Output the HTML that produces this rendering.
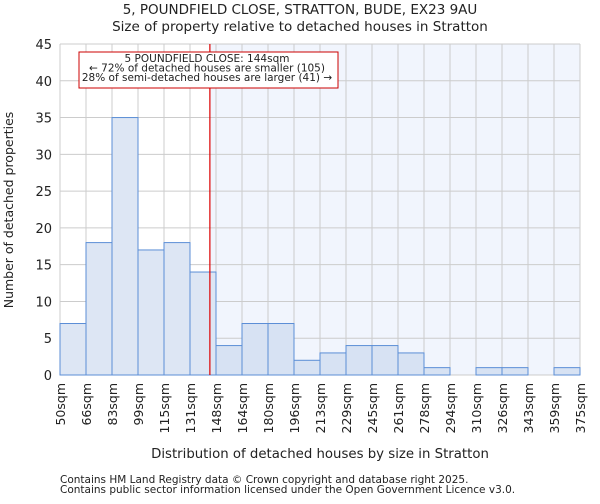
<!DOCTYPE html>
<html><head><meta charset="utf-8"><style>
body{margin:0;background:#fff;font-family:"DejaVu Sans","Liberation Sans",sans-serif;}
svg text{font-family:"DejaVu Sans","Liberation Sans",sans-serif;fill:#222;}
</style></head><body>
<svg id="c" width="600" height="500">
<text x="300" y="14" font-size="13.5" text-anchor="middle">5, POUNDFIELD CLOSE, STRATTON, BUDE, EX23 9AU</text>
<text x="300" y="31" font-size="13.5" text-anchor="middle">Size of property relative to detached houses in Stratton</text>
<g id="plot"></g>
<text x="320" y="458" font-size="13.3" text-anchor="middle">Distribution of detached houses by size in Stratton</text>
<text transform="translate(13,210) rotate(-90)" font-size="12.5" text-anchor="middle">Number of detached properties</text>
<text x="60" y="483" font-size="10.5" fill="#555">Contains HM Land Registry data © Crown copyright and database right 2025.</text>
<text x="60" y="493" font-size="10.5" fill="#555">Contains public sector information licensed under the Open Government Licence v3.0.</text>
</svg>
<script>
const categories=["50sqm","66sqm","83sqm","99sqm","115sqm","131sqm","148sqm","164sqm","180sqm","196sqm","213sqm","229sqm","245sqm","261sqm","278sqm","294sqm","310sqm","326sqm","343sqm","359sqm","375sqm"];
const counts=[7,18,35,17,18,14,4,7,7,2,3,4,4,3,1,0,1,1,0,1];
const yTicks=[0,5,10,15,20,25,30,35,40,45];
const propertyBin=5+13/17;
const NS="http://www.w3.org/2000/svg";
const L=60,R=580,T=44,B=375,yMax=45;
const n=counts.length,bw=(R-L)/n;
const x=i=>L+i*bw, y=v=>B-(v/yMax)*(B-T);
const g=document.getElementById('plot');
function mk(t,a){const e=document.createElementNS(NS,t);for(const k in a)e.setAttribute(k,a[k]);g.appendChild(e);return e;}
const px=x(propertyBin);
let e=mk('rect',{x:px,y:T,width:R-px,height:B-T,fill:'#f1f5fd'});


yTicks.forEach(v=>{const l=mk('line',{x1:L,x2:R,y1:y(v),y2:y(v),stroke:'#ccc'});


const t=mk('text',{x:L-8,y:y(v)+5,'font-size':13,'text-anchor':'end'});t.textContent=v;

});
for(let i=0;i<=n;i++){const l=mk('line',{x1:x(i),x2:x(i),y1:T,y2:B,stroke:'#ccc'});

}
counts.forEach((v,i)=>{if(!v)return;const r=mk('rect',{x:x(i),y:y(v),width:bw,height:B-y(v),fill:i<6?'#dde6f4':'#d7e2f3',stroke:'#5b8ed6','stroke-width':1});

});
categories.forEach((c,i)=>{const t=mk('text',{transform:`translate(${x(i)+5},383) rotate(-90)`,'font-size':12.5,'text-anchor':'end'});t.textContent=c;

});
e=mk('line',{x1:px,x2:px,y1:T,y2:B,stroke:'#d00','stroke-width':1.2});


e=mk('rect',{x:79,y:52,width:259,height:36,fill:'#fff',stroke:'#c00'});


["5 POUNDFIELD CLOSE: 144sqm","← 72% of detached houses are smaller (105)","28% of semi-detached houses are larger (41) →"].forEach((s,i)=>{const t=mk('text',{x:207,y:62+i*9.6,'font-size':10.5,'text-anchor':'middle'});t.textContent=s;

});
</script>
</body></html>
